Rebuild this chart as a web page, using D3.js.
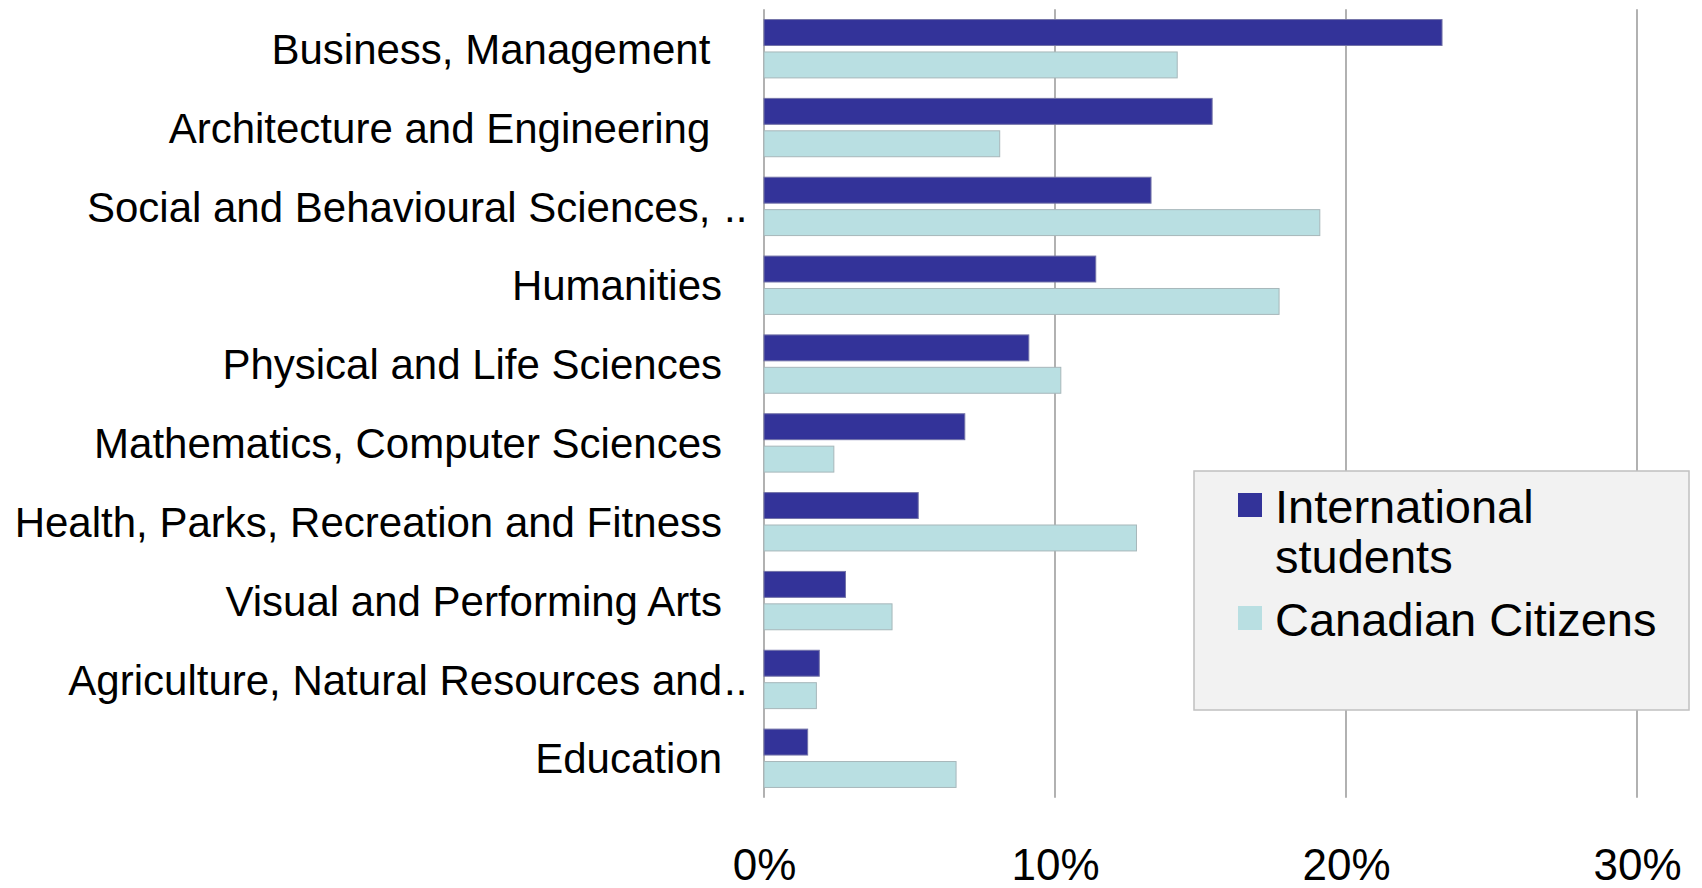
<!DOCTYPE html>
<head>
  <meta charset="utf-8">
  <script src="https://d3js.org/d3.v7.min.js"></script>
  <style>
    body { margin:0; background:#fff; }
    text { font-family: "Liberation Sans", Arial, sans-serif; fill: #000; }
    .cat-label { font-size: 42px; white-space: pre; }
    .x-axis text { font-size: 44px; }
    .x-axis path { display: none; }
    .grid-line { stroke: #888; stroke-width: 1.3; }
    .legend-box { fill: #f2f2f2; stroke: #c0c0c0; stroke-width: 1.5; }
    .legend text { font-size: 47px; }
  </style>
</head>
<body>
  <script>
    // categories, top to bottom (trailing ".." = label cut off in the original)
    var categories = [
      "Business, Management ",
      "Architecture and Engineering ",
      "Social and Behavioural Sciences, ..",
      "Humanities",
      "Physical and Life Sciences",
      "Mathematics, Computer Sciences",
      "Health, Parks, Recreation and Fitness",
      "Visual and Performing Arts",
      "Agriculture, Natural Resources and..",
      "Education"
    ];
    var series = ["International students", "Canadian Citizens"];
    var international = [23.3, 15.4, 13.3, 11.4, 9.1, 6.9, 5.3, 2.8, 1.9, 1.5];
    var canadian = [14.2, 8.1, 19.1, 17.7, 10.2, 2.4, 12.8, 4.4, 1.8, 6.6];
    var xTicks = [0, 10, 20, 30];

    var colours = {"International students": "#333399", "Canadian Citizens": "#b9dfe2"};
    var strokes = {"International students": "#7373a8", "Canadian Citizens": "#a7b7ba"};

    var W = 1702, H = 888;
    var svg = d3.select("body").append("svg")
        .attr("width", W)
        .attr("height", H);

    var x = d3.scaleLinear()
      .domain([0, 30])
      .range([764, 1637]);

    var y = d3.scaleBand()
      .domain(categories)
      .range([9.3, 797.7])
      .paddingInner(0.26)
      .paddingOuter(0.13);

    var ySub = d3.scaleBand()
      .domain(series)
      .range([0, y.bandwidth()])
      .paddingInner(0.2);

    var data = categories.map((c, i) => ({
      name: c,
      values: [
        {series: series[0], value: international[i]},
        {series: series[1], value: canadian[i]}
      ]
    }));

    // grid lines
    svg.append("g").selectAll("line")
      .data(xTicks)
      .enter().append("line")
        .attr("class", "grid-line")
        .attr("x1", d => x(d))
        .attr("x2", d => x(d))
        .attr("y1", y.range()[0])
        .attr("y2", y.range()[1]);

    // bars
    var groups = svg.append("g").selectAll("g")
      .data(data)
      .enter().append("g")
        .attr("transform", d => "translate(0," + y(d.name) + ")");

    groups.selectAll("rect")
      .data(d => d.values)
      .enter().append("rect")
        .attr("x", x(0))
        .attr("y", d => ySub(d.series))
        .attr("width", d => x(d.value) - x(0))
        .attr("height", ySub.bandwidth())
        .style("fill", d => colours[d.series])
        .style("stroke", d => strokes[d.series])
        .style("stroke-width", 1);

    // category labels
    var labelX = 722;
    var labels = svg.append("g");
    data.forEach(d => {
      var cut = d.name.endsWith("..");
      var cy = y(d.name) + y.bandwidth() / 2;
      labels.append("text")
        .attr("class", "cat-label")
        .attr("x", labelX)
        .attr("y", cy)
        .attr("dy", "0.36em")
        .attr("text-anchor", "end")
        .text(cut ? d.name.slice(0, -2) : d.name);
      if (cut) {
        labels.append("text")
          .attr("class", "cat-label")
          .attr("x", labelX + 2)
          .attr("y", cy)
          .attr("dy", "0.36em")
          .text("..");
      }
    });

    // x axis labels
    svg.append("g")
      .attr("class", "x-axis")
      .attr("transform", "translate(0,849)")
      .call(d3.axisBottom(x).tickValues(xTicks).tickSize(0).tickPadding(0).tickFormat(d => d + "%"))
      .selectAll("text")
        .attr("dy", "0.71em");

    // legend
    var legend = svg.append("g").attr("class", "legend");
    legend.append("rect")
      .attr("class", "legend-box")
      .attr("x", 1194)
      .attr("y", 471)
      .attr("width", 495)
      .attr("height", 239);

    var legendItems = [
      {series: series[0], lines: ["International", "students"], y: 523},
      {series: series[1], lines: ["Canadian Citizens"], y: 636}
    ];
    legendItems.forEach(item => {
      legend.append("rect")
        .attr("x", 1238)
        .attr("y", item.y - 30)
        .attr("width", 24)
        .attr("height", 24)
        .style("fill", colours[item.series]);
      var t = legend.append("text")
        .attr("x", 1275)
        .attr("y", item.y);
      item.lines.forEach((l, i) => {
        t.append("tspan")
          .attr("x", 1275)
          .attr("dy", i == 0 ? 0 : 50)
          .text(l);
      });
    });
  </script>
</body>
